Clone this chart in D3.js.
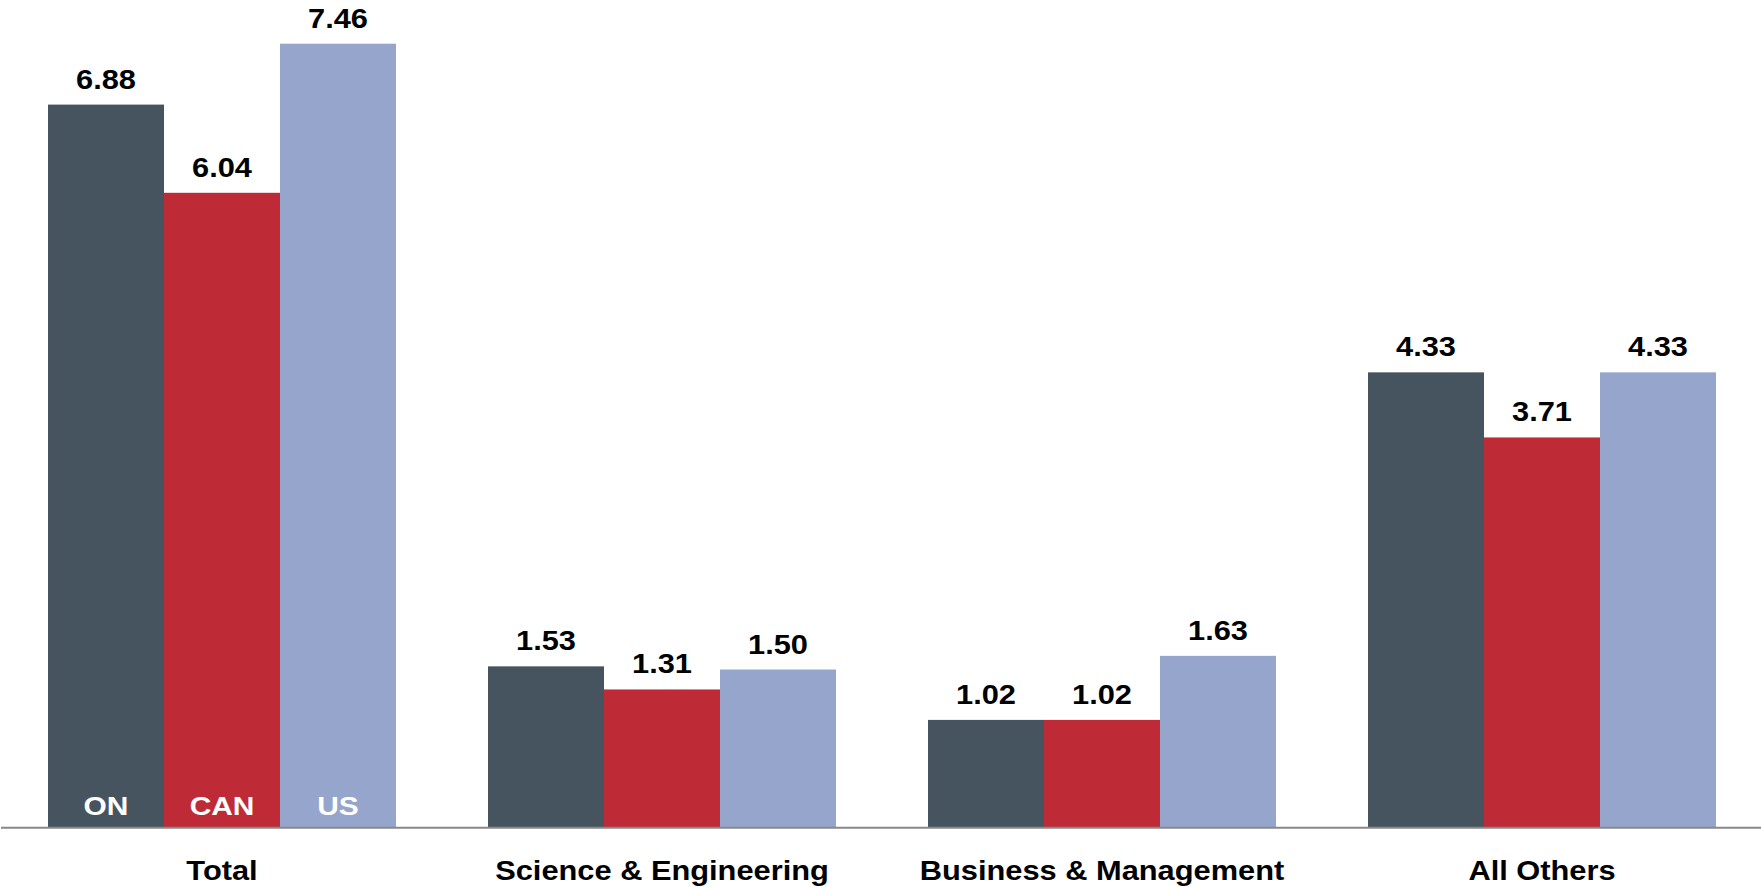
<!DOCTYPE html>
<html>
<head>
<meta charset="utf-8">
<script src="https://cdn.jsdelivr.net/npm/d3@7"></script>
<style>
  html, body { margin: 0; padding: 0; background: #ffffff; }
  svg { display: block; }
  text { font-family: "Liberation Sans", Arial, "DejaVu Sans", sans-serif; font-weight: bold; }
</style>
</head>
<body>
<svg id="chart" width="1761" height="887"></svg>
<script>
// Degrees per 1,000 population, by field
const categories = ["Total", "Science & Engineering", "Business & Management", "All Others"];
const series = ["ON", "CAN", "US"];
const onValues  = [6.88, 1.53, 1.02, 4.33];
const canValues = [6.04, 1.31, 1.02, 3.71];
const usValues  = [7.46, 1.50, 1.63, 4.33];
const seriesColors = ["#46545f", "#be2b37", "#95a5cc"];

const valuesBySeries = [onValues, canValues, usValues];
const rows = categories.map((c, i) => ({
  category: c,
  bars: series.map((s, j) => ({ series: s, value: valuesBySeries[j][i], color: seriesColors[j] }))
}));

const svg = d3.select("#chart");
const W = 1761, baseY = 827;

const x0 = d3.scaleBand()
  .domain(categories)
  .range([2, 1762])
  .paddingInner(92 / 440)
  .paddingOuter(46 / 440);

const x1 = d3.scaleBand()
  .domain(series)
  .range([0, x0.bandwidth()])
  .padding(0);

const y = d3.scaleLinear().domain([0, 8]).range([baseY, baseY - 840]);

const stretch = 1.1;

const groups = svg.selectAll("g.cat")
  .data(rows)
  .join("g")
  .attr("class", "cat")
  .attr("transform", d => `translate(${x0(d.category)},0)`);

groups.selectAll("rect")
  .data(d => d.bars)
  .join("rect")
  .attr("x", d => x1(d.series))
  .attr("y", d => y(d.value))
  .attr("width", x1.bandwidth())
  .attr("height", d => y(0) - y(d.value))
  .attr("fill", d => d.color);

// value labels above bars
groups.selectAll("text.val")
  .data(d => d.bars)
  .join("text")
  .attr("class", "val")
  .attr("text-anchor", "middle")
  .attr("font-size", 28)
  .attr("fill", "#000")
  .attr("transform", d => `translate(${x1(d.series) + x1.bandwidth() / 2},${y(d.value) - 16}) scale(${stretch},1)`)
  .text(d => d.value.toFixed(2));

// series names inside the first group's bars
const first = rows[0];
svg.append("g")
  .attr("transform", `translate(${x0(first.category)},0)`)
  .selectAll("text")
  .data(first.bars)
  .join("text")
  .attr("text-anchor", "middle")
  .attr("font-size", 26)
  .attr("fill", "#ffffff")
  .attr("transform", d => `translate(${x1(d.series) + x1.bandwidth() / 2},${baseY - 12.5}) scale(1.15,1)`)
  .text(d => d.series);

// baseline
svg.append("line")
  .attr("x1", 1).attr("x2", W)
  .attr("y1", baseY + 0.75).attr("y2", baseY + 0.75)
  .attr("stroke", "#888888")
  .attr("stroke-width", 2);

// category labels
svg.append("g")
  .selectAll("text")
  .data(categories)
  .join("text")
  .attr("text-anchor", "middle")
  .attr("font-size", 28)
  .attr("fill", "#000")
  .attr("transform", d => `translate(${x0(d) + x0.bandwidth() / 2},880) scale(${stretch},1)`)
  .text(d => d);
</script>
</body>
</html>
